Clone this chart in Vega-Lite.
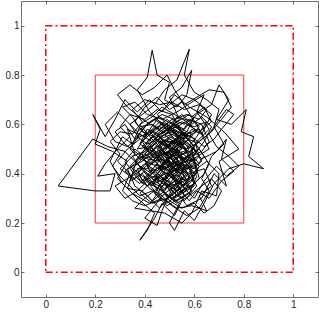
{
  "$schema": "https://vega.github.io/schema/vega-lite/v6.json",
  "width": 297,
  "height": 296,
  "autosize": {"type": "none"},
  "padding": {"left": 21, "top": 1, "right": 1, "bottom": 17},
  "config": {
    "view": {"stroke": null},
    "axis": {"grid": false, "domainColor": "#4d4d4d", "tickColor": "#4d4d4d", "labelColor": "#262626", "labelFont": "Liberation Sans", "labelFontSize": 10, "tickSize": -3, "domainWidth": 0.8, "tickWidth": 0.8, "title": null}
  },
  "layer": [
    {
      "data": {"values": [
        {"i":1,"x":0,"y":0},{"i":2,"x":1,"y":0},{"i":3,"x":1,"y":1},{"i":4,"x":0,"y":1},{"i":5,"x":0,"y":0}
      ]},
      "mark": {"type": "line", "color": "#ff0000", "strokeWidth": 1.5, "strokeDash": [7, 3, 2, 3]},
      "encoding": {
        "x": {"field": "x", "type": "quantitative", "scale": {"domain": [-0.1, 1.1], "nice": false}, "axis": {"values": [0, 0.2, 0.4, 0.6, 0.8, 1], "format": "~g", "labelPadding": 5}},
        "y": {"field": "y", "type": "quantitative", "scale": {"domain": [-0.1, 1.1], "nice": false}, "axis": {"values": [0, 0.2, 0.4, 0.6, 0.8, 1], "format": "~g", "labelPadding": 5}},
        "order": {"field": "i", "type": "quantitative"}
      }
    },
    {
      "data": {"values": [
        {"i":1,"x":0.2,"y":0.2},{"i":2,"x":0.8,"y":0.2},{"i":3,"x":0.8,"y":0.8},{"i":4,"x":0.2,"y":0.8},{"i":5,"x":0.2,"y":0.2}
      ]},
      "mark": {"type": "line", "color": "#ff0000", "strokeWidth": 0.8},
      "encoding": {
        "x": {"field": "x", "type": "quantitative", "axis": null},
        "y": {"field": "y", "type": "quantitative", "axis": null},
        "order": {"field": "i", "type": "quantitative"}
      }
    },
    {
      "data": {"values": [
{"i":1,"x":0.50,"y":0.50},{"i":2,"x":0.55,"y":0.43},{"i":3,"x":0.47,"y":0.38},{"i":4,"x":0.52,"y":0.30},{"i":5,"x":0.60,"y":0.35},
{"i":6,"x":0.58,"y":0.45},{"i":7,"x":0.66,"y":0.50},{"i":8,"x":0.62,"y":0.58},{"i":9,"x":0.54,"y":0.55},{"i":10,"x":0.45,"y":0.62},
{"i":11,"x":0.40,"y":0.55},{"i":12,"x":0.33,"y":0.58},{"i":13,"x":0.36,"y":0.48},{"i":14,"x":0.30,"y":0.42},{"i":15,"x":0.38,"y":0.36},
{"i":16,"x":0.45,"y":0.44},{"i":17,"x":0.50,"y":0.37},{"i":18,"x":0.57,"y":0.27},{"i":19,"x":0.63,"y":0.30},{"i":20,"x":0.68,"y":0.40},
{"i":21,"x":0.73,"y":0.35},{"i":22,"x":0.70,"y":0.45},{"i":23,"x":0.78,"y":0.50},{"i":24,"x":0.72,"y":0.57},{"i":25,"x":0.65,"y":0.63},
{"i":26,"x":0.58,"y":0.67},{"i":27,"x":0.52,"y":0.72},{"i":28,"x":0.47,"y":0.65},{"i":29,"x":0.42,"y":0.70},{"i":30,"x":0.37,"y":0.65},
{"i":31,"x":0.32,"y":0.70},{"i":32,"x":0.28,"y":0.62},{"i":33,"x":0.24,"y":0.55},{"i":34,"x":0.19,"y":0.64},{"i":35,"x":0.22,"y":0.58},
{"i":36,"x":0.20,"y":0.52},{"i":37,"x":0.27,"y":0.49},{"i":38,"x":0.33,"y":0.45},{"i":39,"x":0.29,"y":0.38},{"i":40,"x":0.35,"y":0.32},
{"i":41,"x":0.42,"y":0.28},{"i":42,"x":0.48,"y":0.33},{"i":43,"x":0.53,"y":0.40},{"i":44,"x":0.49,"y":0.47},{"i":45,"x":0.55,"y":0.52},
{"i":46,"x":0.51,"y":0.58},{"i":47,"x":0.44,"y":0.53},{"i":48,"x":0.39,"y":0.48},{"i":49,"x":0.42,"y":0.41},{"i":50,"x":0.48,"y":0.43},
{"i":51,"x":0.54,"y":0.36},{"i":52,"x":0.61,"y":0.40},{"i":53,"x":0.59,"y":0.50},{"i":54,"x":0.64,"y":0.55},{"i":55,"x":0.60,"y":0.61},
{"i":56,"x":0.53,"y":0.63},{"i":57,"x":0.49,"y":0.56},{"i":58,"x":0.43,"y":0.60},{"i":59,"x":0.38,"y":0.59},{"i":60,"x":0.35,"y":0.52},
{"i":61,"x":0.31,"y":0.55},{"i":62,"x":0.26,"y":0.45},{"i":63,"x":0.31,"y":0.36},{"i":64,"x":0.37,"y":0.30},{"i":65,"x":0.44,"y":0.24},
{"i":66,"x":0.41,"y":0.17},{"i":67,"x":0.38,"y":0.13},{"i":68,"x":0.44,"y":0.22},{"i":69,"x":0.47,"y":0.28},{"i":70,"x":0.52,"y":0.23},
{"i":71,"x":0.56,"y":0.31},{"i":72,"x":0.51,"y":0.40},{"i":73,"x":0.46,"y":0.49},{"i":74,"x":0.52,"y":0.46},{"i":75,"x":0.57,"y":0.49},
{"i":76,"x":0.53,"y":0.54},{"i":77,"x":0.48,"y":0.51},{"i":78,"x":0.44,"y":0.46},{"i":79,"x":0.40,"y":0.51},{"i":80,"x":0.45,"y":0.57},
{"i":81,"x":0.50,"y":0.61},{"i":82,"x":0.56,"y":0.58},{"i":83,"x":0.61,"y":0.64},{"i":84,"x":0.67,"y":0.68},{"i":85,"x":0.70,"y":0.76},
{"i":86,"x":0.74,"y":0.70},{"i":87,"x":0.69,"y":0.62},{"i":88,"x":0.75,"y":0.60},{"i":89,"x":0.81,"y":0.66},{"i":90,"x":0.79,"y":0.57},
{"i":91,"x":0.84,"y":0.55},{"i":92,"x":0.82,"y":0.47},{"i":93,"x":0.88,"y":0.42},{"i":94,"x":0.80,"y":0.44},{"i":95,"x":0.74,"y":0.42},
{"i":96,"x":0.68,"y":0.36},{"i":97,"x":0.64,"y":0.28},{"i":98,"x":0.60,"y":0.21},{"i":99,"x":0.56,"y":0.25},{"i":100,"x":0.52,"y":0.17},
{"i":101,"x":0.50,"y":0.20},{"i":102,"x":0.54,"y":0.28},{"i":103,"x":0.49,"y":0.31},{"i":104,"x":0.45,"y":0.37},{"i":105,"x":0.50,"y":0.44},
{"i":106,"x":0.46,"y":0.52},{"i":107,"x":0.51,"y":0.55},{"i":108,"x":0.47,"y":0.60},{"i":109,"x":0.42,"y":0.65},{"i":110,"x":0.37,"y":0.74},
{"i":111,"x":0.41,"y":0.79},{"i":112,"x":0.43,"y":0.90},{"i":113,"x":0.45,"y":0.80},{"i":114,"x":0.50,"y":0.77},{"i":115,"x":0.48,"y":0.70},
{"i":116,"x":0.53,"y":0.67},{"i":117,"x":0.57,"y":0.72},{"i":118,"x":0.59,"y":0.82},{"i":119,"x":0.55,"y":0.75},{"i":120,"x":0.50,"y":0.71},
{"i":121,"x":0.54,"y":0.62},{"i":122,"x":0.49,"y":0.58},{"i":123,"x":0.55,"y":0.50},{"i":124,"x":0.50,"y":0.47},{"i":125,"x":0.45,"y":0.41},
{"i":126,"x":0.40,"y":0.44},{"i":127,"x":0.35,"y":0.40},{"i":128,"x":0.33,"y":0.34},{"i":129,"x":0.39,"y":0.33},{"i":130,"x":0.43,"y":0.29},
{"i":131,"x":0.48,"y":0.36},{"i":132,"x":0.53,"y":0.33},{"i":133,"x":0.58,"y":0.38},{"i":134,"x":0.55,"y":0.45},{"i":135,"x":0.51,"y":0.51},
{"i":136,"x":0.56,"y":0.55},{"i":137,"x":0.52,"y":0.60},{"i":138,"x":0.46,"y":0.56},{"i":139,"x":0.41,"y":0.58},{"i":140,"x":0.38,"y":0.52},
{"i":141,"x":0.43,"y":0.49},{"i":142,"x":0.48,"y":0.45},{"i":143,"x":0.53,"y":0.48},{"i":144,"x":0.58,"y":0.43},{"i":145,"x":0.62,"y":0.47},
{"i":146,"x":0.60,"y":0.54},{"i":147,"x":0.55,"y":0.57},{"i":148,"x":0.51,"y":0.64},{"i":149,"x":0.45,"y":0.66},{"i":150,"x":0.40,"y":0.62},
{"i":151,"x":0.34,"y":0.64},{"i":152,"x":0.30,"y":0.59},{"i":153,"x":0.34,"y":0.55},{"i":154,"x":0.29,"y":0.50},{"i":155,"x":0.24,"y":0.44},
{"i":156,"x":0.21,"y":0.39},{"i":157,"x":0.28,"y":0.40},{"i":158,"x":0.26,"y":0.33},{"i":159,"x":0.20,"y":0.33},{"i":160,"x":0.05,"y":0.35},
{"i":161,"x":0.19,"y":0.54},{"i":162,"x":0.25,"y":0.51},{"i":163,"x":0.32,"y":0.49},{"i":164,"x":0.37,"y":0.44},{"i":165,"x":0.42,"y":0.38},
{"i":166,"x":0.46,"y":0.32},{"i":167,"x":0.51,"y":0.27},{"i":168,"x":0.57,"y":0.23},{"i":169,"x":0.62,"y":0.26},{"i":170,"x":0.66,"y":0.33},
{"i":171,"x":0.63,"y":0.38},{"i":172,"x":0.66,"y":0.44},{"i":173,"x":0.62,"y":0.50},{"i":174,"x":0.57,"y":0.47},{"i":175,"x":0.53,"y":0.42},
{"i":176,"x":0.49,"y":0.40},{"i":177,"x":0.44,"y":0.43},{"i":178,"x":0.49,"y":0.49},{"i":179,"x":0.54,"y":0.45},{"i":180,"x":0.59,"y":0.41},
{"i":181,"x":0.56,"y":0.35},{"i":182,"x":0.52,"y":0.38},{"i":183,"x":0.47,"y":0.41},{"i":184,"x":0.43,"y":0.35},{"i":185,"x":0.39,"y":0.40},
{"i":186,"x":0.34,"y":0.37},{"i":187,"x":0.37,"y":0.46},{"i":188,"x":0.42,"y":0.48},{"i":189,"x":0.47,"y":0.54},{"i":190,"x":0.52,"y":0.52},
{"i":191,"x":0.57,"y":0.60},{"i":192,"x":0.62,"y":0.57},{"i":193,"x":0.67,"y":0.61},{"i":194,"x":0.64,"y":0.67},{"i":195,"x":0.59,"y":0.63},
{"i":196,"x":0.55,"y":0.69},{"i":197,"x":0.50,"y":0.66},{"i":198,"x":0.45,"y":0.71},{"i":199,"x":0.40,"y":0.67},{"i":200,"x":0.36,"y":0.61},
{"i":201,"x":0.41,"y":0.55},{"i":202,"x":0.46,"y":0.59},{"i":203,"x":0.52,"y":0.57},{"i":204,"x":0.58,"y":0.52},{"i":205,"x":0.63,"y":0.46},
{"i":206,"x":0.69,"y":0.49},{"i":207,"x":0.73,"y":0.54},{"i":208,"x":0.71,"y":0.46},{"i":209,"x":0.76,"y":0.41},{"i":210,"x":0.71,"y":0.37},
{"i":211,"x":0.66,"y":0.30},{"i":212,"x":0.61,"y":0.33},{"i":213,"x":0.58,"y":0.29},{"i":214,"x":0.53,"y":0.35},{"i":215,"x":0.50,"y":0.42},
{"i":216,"x":0.55,"y":0.40},{"i":217,"x":0.60,"y":0.44},{"i":218,"x":0.56,"y":0.51},{"i":219,"x":0.50,"y":0.54},{"i":220,"x":0.44,"y":0.50},
{"i":221,"x":0.39,"y":0.45},{"i":222,"x":0.33,"y":0.42},{"i":223,"x":0.36,"y":0.35},{"i":224,"x":0.41,"y":0.31},{"i":225,"x":0.46,"y":0.26},
{"i":226,"x":0.50,"y":0.31},{"i":227,"x":0.55,"y":0.37},{"i":228,"x":0.51,"y":0.44},{"i":229,"x":0.47,"y":0.48},{"i":230,"x":0.52,"y":0.50},
{"i":231,"x":0.56,"y":0.46},{"i":232,"x":0.60,"y":0.51},{"i":233,"x":0.56,"y":0.56},{"i":234,"x":0.50,"y":0.58},{"i":235,"x":0.44,"y":0.55},
{"i":236,"x":0.39,"y":0.57},{"i":237,"x":0.35,"y":0.63},{"i":238,"x":0.31,"y":0.67},{"i":239,"x":0.36,"y":0.69},{"i":240,"x":0.41,"y":0.64},
{"i":241,"x":0.47,"y":0.62},{"i":242,"x":0.53,"y":0.65},{"i":243,"x":0.59,"y":0.69},{"i":244,"x":0.64,"y":0.72},{"i":245,"x":0.61,"y":0.65},
{"i":246,"x":0.66,"y":0.58},{"i":247,"x":0.61,"y":0.53},{"i":248,"x":0.57,"y":0.45},{"i":249,"x":0.52,"y":0.43},{"i":250,"x":0.48,"y":0.38},
{"i":251,"x":0.44,"y":0.32},{"i":252,"x":0.49,"y":0.27},{"i":253,"x":0.54,"y":0.30},{"i":254,"x":0.59,"y":0.33},{"i":255,"x":0.54,"y":0.40},
{"i":256,"x":0.49,"y":0.46},{"i":257,"x":0.45,"y":0.50},{"i":258,"x":0.50,"y":0.53},{"i":259,"x":0.55,"y":0.48},{"i":260,"x":0.51,"y":0.45},
{"i":261,"x":0.58,"y":0.40},{"i":262,"x":0.64,"y":0.42},{"i":263,"x":0.67,"y":0.35},{"i":264,"x":0.62,"y":0.31},{"i":265,"x":0.65,"y":0.25},
{"i":266,"x":0.59,"y":0.27},{"i":267,"x":0.53,"y":0.26},{"i":268,"x":0.47,"y":0.30},{"i":269,"x":0.40,"y":0.27},{"i":270,"x":0.35,"y":0.29},
{"i":271,"x":0.31,"y":0.33},{"i":272,"x":0.34,"y":0.40},{"i":273,"x":0.29,"y":0.45},{"i":274,"x":0.33,"y":0.50},{"i":275,"x":0.38,"y":0.54},
{"i":276,"x":0.34,"y":0.60},{"i":277,"x":0.39,"y":0.64},{"i":278,"x":0.44,"y":0.68},{"i":279,"x":0.48,"y":0.74},{"i":280,"x":0.53,"y":0.78},
{"i":281,"x":0.58,"y":0.905},{"i":282,"x":0.56,"y":0.80},{"i":283,"x":0.60,"y":0.73},{"i":284,"x":0.65,"y":0.70},{"i":285,"x":0.70,"y":0.66},
{"i":286,"x":0.68,"y":0.59},{"i":287,"x":0.72,"y":0.52},{"i":288,"x":0.67,"y":0.47},{"i":289,"x":0.64,"y":0.40},{"i":290,"x":0.60,"y":0.36},
{"i":291,"x":0.55,"y":0.33},{"i":292,"x":0.51,"y":0.36},{"i":293,"x":0.46,"y":0.39},{"i":294,"x":0.41,"y":0.35},{"i":295,"x":0.37,"y":0.38},
{"i":296,"x":0.32,"y":0.45},{"i":297,"x":0.36,"y":0.50},{"i":298,"x":0.41,"y":0.46},{"i":299,"x":0.46,"y":0.45},{"i":300,"x":0.42,"y":0.52},
{"i":301,"x":0.47,"y":0.57},{"i":302,"x":0.53,"y":0.59},{"i":303,"x":0.58,"y":0.62},{"i":304,"x":0.63,"y":0.60},{"i":305,"x":0.66,"y":0.53},
{"i":306,"x":0.63,"y":0.49},{"i":307,"x":0.59,"y":0.47},{"i":308,"x":0.54,"y":0.43},{"i":309,"x":0.49,"y":0.39},{"i":310,"x":0.45,"y":0.34},
{"i":311,"x":0.40,"y":0.30},{"i":312,"x":0.36,"y":0.26},{"i":313,"x":0.42,"y":0.25},{"i":314,"x":0.48,"y":0.24},{"i":315,"x":0.55,"y":0.20},
{"i":316,"x":0.59,"y":0.24},{"i":317,"x":0.63,"y":0.33},{"i":318,"x":0.69,"y":0.31},{"i":319,"x":0.70,"y":0.40},{"i":320,"x":0.65,"y":0.45},
{"i":321,"x":0.61,"y":0.42},{"i":322,"x":0.57,"y":0.36},{"i":323,"x":0.52,"y":0.32},{"i":324,"x":0.48,"y":0.29},{"i":325,"x":0.43,"y":0.33},
{"i":326,"x":0.38,"y":0.31},{"i":327,"x":0.34,"y":0.35},{"i":328,"x":0.30,"y":0.39},{"i":329,"x":0.27,"y":0.43},{"i":330,"x":0.30,"y":0.48},
{"i":331,"x":0.26,"y":0.53},{"i":332,"x":0.30,"y":0.57},{"i":333,"x":0.35,"y":0.56},{"i":334,"x":0.39,"y":0.61},{"i":335,"x":0.35,"y":0.66},
{"i":336,"x":0.40,"y":0.70},{"i":337,"x":0.46,"y":0.68},{"i":338,"x":0.51,"y":0.69},{"i":339,"x":0.56,"y":0.66},{"i":340,"x":0.62,"y":0.68},
{"i":341,"x":0.67,"y":0.64},{"i":342,"x":0.63,"y":0.56},{"i":343,"x":0.59,"y":0.58},{"i":344,"x":0.55,"y":0.53},{"i":345,"x":0.50,"y":0.49},
{"i":346,"x":0.45,"y":0.47},{"i":347,"x":0.41,"y":0.42},{"i":348,"x":0.37,"y":0.42},{"i":349,"x":0.39,"y":0.37},{"i":350,"x":0.44,"y":0.39},
{"i":351,"x":0.49,"y":0.35},{"i":352,"x":0.54,"y":0.38},{"i":353,"x":0.58,"y":0.34},{"i":354,"x":0.62,"y":0.38},{"i":355,"x":0.60,"y":0.46},
{"i":356,"x":0.55,"y":0.42},{"i":357,"x":0.52,"y":0.47},{"i":358,"x":0.48,"y":0.53},{"i":359,"x":0.43,"y":0.57},{"i":360,"x":0.38,"y":0.55},
{"i":361,"x":0.33,"y":0.51},{"i":362,"x":0.28,"y":0.53},{"i":363,"x":0.24,"y":0.60},{"i":364,"x":0.29,"y":0.65},{"i":365,"x":0.33,"y":0.61},
{"i":366,"x":0.37,"y":0.57},{"i":367,"x":0.42,"y":0.61},{"i":368,"x":0.47,"y":0.64},{"i":369,"x":0.52,"y":0.62},{"i":370,"x":0.57,"y":0.64},
{"i":371,"x":0.62,"y":0.62},{"i":372,"x":0.65,"y":0.66},{"i":373,"x":0.60,"y":0.70},{"i":374,"x":0.55,"y":0.72},{"i":375,"x":0.50,"y":0.68},
{"i":376,"x":0.45,"y":0.64},{"i":377,"x":0.49,"y":0.60},{"i":378,"x":0.54,"y":0.56},{"i":379,"x":0.59,"y":0.55},{"i":380,"x":0.64,"y":0.51},
{"i":381,"x":0.68,"y":0.54},{"i":382,"x":0.71,"y":0.58},{"i":383,"x":0.76,"y":0.64},{"i":384,"x":0.73,"y":0.66},{"i":385,"x":0.70,"y":0.62},
{"i":386,"x":0.66,"y":0.56},{"i":387,"x":0.69,"y":0.51},{"i":388,"x":0.74,"y":0.47},{"i":389,"x":0.78,"y":0.43},{"i":390,"x":0.73,"y":0.39},
{"i":391,"x":0.69,"y":0.43},{"i":392,"x":0.64,"y":0.37},{"i":393,"x":0.60,"y":0.30},{"i":394,"x":0.57,"y":0.33},{"i":395,"x":0.52,"y":0.39},
{"i":396,"x":0.47,"y":0.44},{"i":397,"x":0.43,"y":0.40},{"i":398,"x":0.38,"y":0.43},{"i":399,"x":0.35,"y":0.47},{"i":400,"x":0.40,"y":0.49},
{"i":401,"x":0.45,"y":0.53},{"i":402,"x":0.51,"y":0.50},{"i":403,"x":0.56,"y":0.53},{"i":404,"x":0.52,"y":0.56},{"i":405,"x":0.48,"y":0.59},
{"i":406,"x":0.44,"y":0.62},{"i":407,"x":0.40,"y":0.59},{"i":408,"x":0.36,"y":0.54},{"i":409,"x":0.32,"y":0.60},{"i":410,"x":0.28,"y":0.57},
{"i":411,"x":0.32,"y":0.52},{"i":412,"x":0.36,"y":0.49},{"i":413,"x":0.40,"y":0.46},{"i":414,"x":0.44,"y":0.48},{"i":415,"x":0.48,"y":0.42},
{"i":416,"x":0.53,"y":0.45},{"i":417,"x":0.57,"y":0.42},{"i":418,"x":0.62,"y":0.44},{"i":419,"x":0.58,"y":0.49},{"i":420,"x":0.54,"y":0.51},
{"i":421,"x":0.49,"y":0.55},{"i":422,"x":0.44,"y":0.59},{"i":423,"x":0.39,"y":0.62},{"i":424,"x":0.33,"y":0.67},{"i":425,"x":0.29,"y":0.72},
{"i":426,"x":0.34,"y":0.76},{"i":427,"x":0.39,"y":0.72},{"i":428,"x":0.44,"y":0.75},{"i":429,"x":0.49,"y":0.80},{"i":430,"x":0.52,"y":0.74},
{"i":431,"x":0.56,"y":0.68},{"i":432,"x":0.61,"y":0.71},{"i":433,"x":0.66,"y":0.74},{"i":434,"x":0.72,"y":0.73},{"i":435,"x":0.75,"y":0.67},
{"i":436,"x":0.71,"y":0.62},{"i":437,"x":0.67,"y":0.57},{"i":438,"x":0.62,"y":0.53},{"i":439,"x":0.57,"y":0.50},{"i":440,"x":0.53,"y":0.53},
{"i":441,"x":0.48,"y":0.50},{"i":442,"x":0.43,"y":0.45},{"i":443,"x":0.38,"y":0.41},{"i":444,"x":0.33,"y":0.38},{"i":445,"x":0.28,"y":0.35},
{"i":446,"x":0.32,"y":0.30},{"i":447,"x":0.37,"y":0.33},{"i":448,"x":0.41,"y":0.37},{"i":449,"x":0.46,"y":0.35},{"i":450,"x":0.50,"y":0.29},
{"i":451,"x":0.55,"y":0.26},{"i":452,"x":0.60,"y":0.28},{"i":453,"x":0.64,"y":0.24},{"i":454,"x":0.68,"y":0.27},{"i":455,"x":0.71,"y":0.33},
{"i":456,"x":0.67,"y":0.38},{"i":457,"x":0.63,"y":0.35},{"i":458,"x":0.58,"y":0.31},{"i":459,"x":0.53,"y":0.28},{"i":460,"x":0.48,"y":0.32},
{"i":461,"x":0.44,"y":0.27},{"i":462,"x":0.40,"y":0.22},{"i":463,"x":0.45,"y":0.19},{"i":464,"x":0.47,"y":0.25},{"i":465,"x":0.51,"y":0.34},
{"i":466,"x":0.56,"y":0.39},{"i":467,"x":0.51,"y":0.43},{"i":468,"x":0.47,"y":0.47},{"i":469,"x":0.42,"y":0.51},{"i":470,"x":0.37,"y":0.50},
{"i":471,"x":0.41,"y":0.56},{"i":472,"x":0.46,"y":0.61},{"i":473,"x":0.51,"y":0.59},{"i":474,"x":0.55,"y":0.61},{"i":475,"x":0.60,"y":0.59},
{"i":476,"x":0.65,"y":0.61},{"i":477,"x":0.61,"y":0.55},{"i":478,"x":0.56,"y":0.49},{"i":479,"x":0.51,"y":0.48},{"i":480,"x":0.46,"y":0.43},
{"i":481,"x":0.42,"y":0.44},{"i":482,"x":0.38,"y":0.47},{"i":483,"x":0.34,"y":0.43},{"i":484,"x":0.39,"y":0.39},{"i":485,"x":0.44,"y":0.36},
{"i":486,"x":0.50,"y":0.39},{"i":487,"x":0.55,"y":0.35},{"i":488,"x":0.60,"y":0.38},{"i":489,"x":0.57,"y":0.44},{"i":490,"x":0.53,"y":0.49},
{"i":491,"x":0.49,"y":0.52},{"i":492,"x":0.45,"y":0.56},{"i":493,"x":0.50,"y":0.60},{"i":494,"x":0.55,"y":0.64},{"i":495,"x":0.59,"y":0.60},
{"i":496,"x":0.63,"y":0.63},{"i":497,"x":0.67,"y":0.59},{"i":498,"x":0.64,"y":0.53},{"i":499,"x":0.60,"y":0.48},{"i":500,"x":0.55,"y":0.46},
{"i":501,"x":0.50,"y":0.41},{"i":502,"x":0.45,"y":0.38},{"i":503,"x":0.41,"y":0.43},{"i":504,"x":0.46,"y":0.46},{"i":505,"x":0.52,"y":0.44},
{"i":506,"x":0.57,"y":0.40},{"i":507,"x":0.53,"y":0.36},{"i":508,"x":0.48,"y":0.34},{"i":509,"x":0.43,"y":0.38},{"i":510,"x":0.47,"y":0.42},
{"i":511,"x":0.53,"y":0.46},{"i":512,"x":0.58,"y":0.50},{"i":513,"x":0.54,"y":0.55},{"i":514,"x":0.49,"y":0.51},{"i":515,"x":0.44,"y":0.54},
{"i":516,"x":0.40,"y":0.50},{"i":517,"x":0.36,"y":0.45},{"i":518,"x":0.41,"y":0.40},{"i":519,"x":0.46,"y":0.37},{"i":520,"x":0.51,"y":0.33},
{"i":521,"x":0.56,"y":0.29},{"i":522,"x":0.61,"y":0.35},{"i":523,"x":0.58,"y":0.41},{"i":524,"x":0.63,"y":0.45},{"i":525,"x":0.59,"y":0.52},
{"i":526,"x":0.54,"y":0.58},{"i":527,"x":0.49,"y":0.62},{"i":528,"x":0.44,"y":0.58},{"i":529,"x":0.39,"y":0.53},{"i":530,"x":0.43,"y":0.47},
{"i":531,"x":0.48,"y":0.44},{"i":532,"x":0.53,"y":0.41},{"i":533,"x":0.49,"y":0.37},{"i":534,"x":0.44,"y":0.41},{"i":535,"x":0.39,"y":0.36},
{"i":536,"x":0.35,"y":0.42},{"i":537,"x":0.40,"y":0.47},{"i":538,"x":0.45,"y":0.51},{"i":539,"x":0.50,"y":0.55},{"i":540,"x":0.56,"y":0.52},
{"i":541,"x":0.61,"y":0.49},{"i":542,"x":0.57,"y":0.43},{"i":543,"x":0.52,"y":0.37},{"i":544,"x":0.47,"y":0.33},{"i":545,"x":0.42,"y":0.36},
{"i":546,"x":0.38,"y":0.32},{"i":547,"x":0.43,"y":0.28},{"i":548,"x":0.49,"y":0.30},{"i":549,"x":0.54,"y":0.34},{"i":550,"x":0.50,"y":0.40},
{"i":551,"x":0.55,"y":0.44},{"i":552,"x":0.60,"y":0.42},{"i":553,"x":0.64,"y":0.47},{"i":554,"x":0.60,"y":0.53},{"i":555,"x":0.55,"y":0.55},
{"i":556,"x":0.50,"y":0.52},{"i":557,"x":0.45,"y":0.48},{"i":558,"x":0.41,"y":0.53},{"i":559,"x":0.46,"y":0.58},{"i":560,"x":0.51,"y":0.62},
{"i":561,"x":0.56,"y":0.60},{"i":562,"x":0.60,"y":0.63},{"i":563,"x":0.57,"y":0.57},{"i":564,"x":0.52,"y":0.54},{"i":565,"x":0.48,"y":0.49},
{"i":566,"x":0.43,"y":0.44},{"i":567,"x":0.38,"y":0.46},{"i":568,"x":0.34,"y":0.50},{"i":569,"x":0.38,"y":0.56},{"i":570,"x":0.43,"y":0.53},
{"i":571,"x":0.48,"y":0.57},{"i":572,"x":0.53,"y":0.61},{"i":573,"x":0.58,"y":0.64},{"i":574,"x":0.62,"y":0.59},{"i":575,"x":0.58,"y":0.54},
{"i":576,"x":0.53,"y":0.50},{"i":577,"x":0.49,"y":0.45},{"i":578,"x":0.45,"y":0.40},{"i":579,"x":0.50,"y":0.36},{"i":580,"x":0.55,"y":0.32},
{"i":581,"x":0.60,"y":0.36},{"i":582,"x":0.56,"y":0.42},{"i":583,"x":0.51,"y":0.46},{"i":584,"x":0.46,"y":0.50},{"i":585,"x":0.42,"y":0.46},
{"i":586,"x":0.37,"y":0.40},{"i":587,"x":0.42,"y":0.34},{"i":588,"x":0.47,"y":0.31},{"i":589,"x":0.52,"y":0.35},{"i":590,"x":0.57,"y":0.39},
{"i":591,"x":0.53,"y":0.44},{"i":592,"x":0.48,"y":0.48},{"i":593,"x":0.53,"y":0.52},{"i":594,"x":0.57,"y":0.56},{"i":595,"x":0.52,"y":0.59},
{"i":596,"x":0.47,"y":0.55},{"i":597,"x":0.42,"y":0.50},{"i":598,"x":0.47,"y":0.46},{"i":599,"x":0.52,"y":0.42},{"i":600,"x":0.48,"y":0.37},
{"i":601,"x":0.53,"y":0.31},{"i":602,"x":0.58,"y":0.35},{"i":603,"x":0.55,"y":0.41},{"i":604,"x":0.50,"y":0.45},{"i":605,"x":0.45,"y":0.42},
{"i":606,"x":0.40,"y":0.38},{"i":607,"x":0.44,"y":0.33},{"i":608,"x":0.49,"y":0.28},{"i":609,"x":0.54,"y":0.32},{"i":610,"x":0.59,"y":0.37},
{"i":611,"x":0.62,"y":0.43},{"i":612,"x":0.58,"y":0.47},{"i":613,"x":0.54,"y":0.44},{"i":614,"x":0.49,"y":0.41},{"i":615,"x":0.44,"y":0.45},
{"i":616,"x":0.40,"y":0.48},{"i":617,"x":0.44,"y":0.52},{"i":618,"x":0.49,"y":0.48},{"i":619,"x":0.54,"y":0.47},{"i":620,"x":0.59,"y":0.45},
{"i":621,"x":0.56,"y":0.50},{"i":622,"x":0.51,"y":0.53},{"i":623,"x":0.46,"y":0.53},{"i":624,"x":0.42,"y":0.57},{"i":625,"x":0.47,"y":0.60},
{"i":626,"x":0.52,"y":0.58},{"i":627,"x":0.57,"y":0.55},{"i":628,"x":0.61,"y":0.57},{"i":629,"x":0.57,"y":0.61},{"i":630,"x":0.52,"y":0.64},
{"i":631,"x":0.47,"y":0.67},{"i":632,"x":0.43,"y":0.63},{"i":633,"x":0.38,"y":0.60},{"i":634,"x":0.42,"y":0.55},{"i":635,"x":0.46,"y":0.51},
{"i":636,"x":0.50,"y":0.47},{"i":637,"x":0.54,"y":0.42},{"i":638,"x":0.50,"y":0.38},{"i":639,"x":0.46,"y":0.34},{"i":640,"x":0.51,"y":0.30},
{"i":641,"x":0.56,"y":0.34},{"i":642,"x":0.53,"y":0.39},{"i":643,"x":0.48,"y":0.40},{"i":644,"x":0.44,"y":0.37},{"i":645,"x":0.40,"y":0.41},
{"i":646,"x":0.36,"y":0.38},{"i":647,"x":0.32,"y":0.41},{"i":648,"x":0.36,"y":0.44},{"i":649,"x":0.41,"y":0.49},{"i":650,"x":0.46,"y":0.47},
{"i":651,"x":0.51,"y":0.49},{"i":652,"x":0.56,"y":0.48},{"i":653,"x":0.60,"y":0.50},{"i":654,"x":0.56,"y":0.53},{"i":655,"x":0.51,"y":0.56},
{"i":656,"x":0.46,"y":0.54},{"i":657,"x":0.41,"y":0.52},{"i":658,"x":0.37,"y":0.55},{"i":659,"x":0.41,"y":0.60},{"i":660,"x":0.46,"y":0.63},
{"i":661,"x":0.51,"y":0.60},{"i":662,"x":0.55,"y":0.58},{"i":663,"x":0.59,"y":0.56},{"i":664,"x":0.55,"y":0.51},{"i":665,"x":0.51,"y":0.47},
{"i":666,"x":0.47,"y":0.43},{"i":667,"x":0.52,"y":0.40},{"i":668,"x":0.57,"y":0.37},{"i":669,"x":0.53,"y":0.33},{"i":670,"x":0.49,"y":0.36},
{"i":671,"x":0.45,"y":0.39},{"i":672,"x":0.41,"y":0.44},{"i":673,"x":0.45,"y":0.49},{"i":674,"x":0.50,"y":0.51},{"i":675,"x":0.54,"y":0.49},
{"i":676,"x":0.58,"y":0.46},{"i":677,"x":0.55,"y":0.41},{"i":678,"x":0.50,"y":0.43},{"i":679,"x":0.46,"y":0.41},{"i":680,"x":0.43,"y":0.36},
{"i":681,"x":0.48,"y":0.32},{"i":682,"x":0.53,"y":0.29},{"i":683,"x":0.58,"y":0.32},{"i":684,"x":0.61,"y":0.39},{"i":685,"x":0.57,"y":0.44},
{"i":686,"x":0.52,"y":0.48},{"i":687,"x":0.48,"y":0.52},{"i":688,"x":0.43,"y":0.55},{"i":689,"x":0.39,"y":0.51},{"i":690,"x":0.44,"y":0.47},
{"i":691,"x":0.49,"y":0.44},{"i":692,"x":0.54,"y":0.41},{"i":693,"x":0.59,"y":0.43},{"i":694,"x":0.55,"y":0.47},{"i":695,"x":0.50,"y":0.50},
{"i":696,"x":0.46,"y":0.55},{"i":697,"x":0.51,"y":0.57},{"i":698,"x":0.56,"y":0.54},{"i":699,"x":0.53,"y":0.51},{"i":700,"x":0.49,"y":0.48}
      ]},
      "mark": {"type": "line", "color": "#000000", "strokeWidth": 1},
      "encoding": {
        "x": {"field": "x", "type": "quantitative", "axis": null},
        "y": {"field": "y", "type": "quantitative", "axis": null},
        "order": {"field": "i", "type": "quantitative"}
      }
    },
    {
      "data": {"values": [{"x": 0, "y": 0}]},
      "mark": {"type": "point", "opacity": 0},
      "encoding": {
        "x": {"field": "x", "type": "quantitative", "axis": {"orient": "top", "values": [0, 0.2, 0.4, 0.6, 0.8, 1], "labels": false}},
        "y": {"field": "y", "type": "quantitative", "axis": {"orient": "right", "values": [0, 0.2, 0.4, 0.6, 0.8, 1], "labels": false}}
      }
    }
  ],
  "resolve": {"axis": {"x": "independent", "y": "independent"}}
}
